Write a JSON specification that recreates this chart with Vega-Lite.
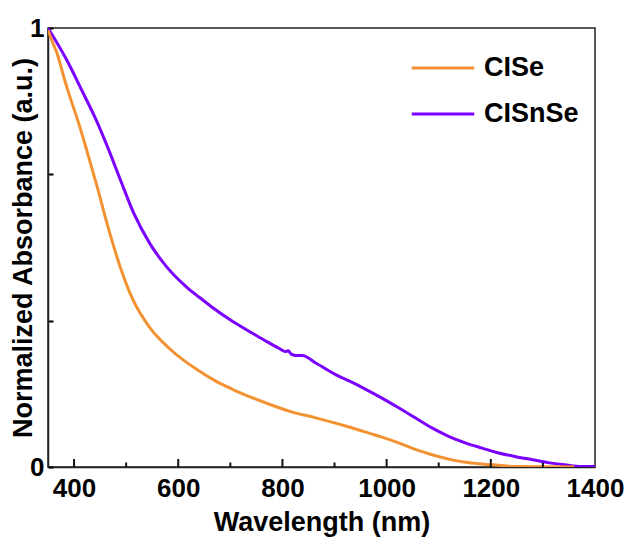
{
  "$schema": "https://vega.github.io/schema/vega-lite/v6.json",
  "width": 547,
  "height": 439,
  "autosize": {"type": "none"},
  "padding": {"left": 48, "top": 28, "right": 32, "bottom": 70},
  "config": {
    "font": "Liberation Sans",
    "view": {"stroke": "#222", "strokeWidth": 1.5},
    "axis": {"domainColor": "#222", "domainWidth": 1.5, "tickColor": "#000", "tickWidth": 2, "grid": false, "zindex": 1,
             "labelFont": "Liberation Sans", "labelFontWeight": "bold", "labelFontSize": 26, "labelColor": "#000",
             "titleFont": "Liberation Sans", "titleFontWeight": "bold", "titleFontSize": 27, "titleColor": "#000"}
  },
  "datasets": {
    "spectra": [
      {"wavelength": 350, "absorbance": 1.0, "sample": "CISnSe"},
      {"wavelength": 386, "absorbance": 0.927, "sample": "CISnSe"},
      {"wavelength": 417, "absorbance": 0.853, "sample": "CISnSe"},
      {"wavelength": 443, "absorbance": 0.789, "sample": "CISnSe"},
      {"wavelength": 465, "absorbance": 0.727, "sample": "CISnSe"},
      {"wavelength": 490, "absorbance": 0.651, "sample": "CISnSe"},
      {"wavelength": 515, "absorbance": 0.577, "sample": "CISnSe"},
      {"wavelength": 545, "absorbance": 0.510, "sample": "CISnSe"},
      {"wavelength": 577, "absorbance": 0.457, "sample": "CISnSe"},
      {"wavelength": 615, "absorbance": 0.411, "sample": "CISnSe"},
      {"wavelength": 641, "absorbance": 0.386, "sample": "CISnSe"},
      {"wavelength": 665, "absorbance": 0.364, "sample": "CISnSe"},
      {"wavelength": 704, "absorbance": 0.332, "sample": "CISnSe"},
      {"wavelength": 745, "absorbance": 0.303, "sample": "CISnSe"},
      {"wavelength": 768, "absorbance": 0.287, "sample": "CISnSe"},
      {"wavelength": 794, "absorbance": 0.270, "sample": "CISnSe"},
      {"wavelength": 806, "absorbance": 0.263, "sample": "CISnSe"},
      {"wavelength": 811, "absorbance": 0.265, "sample": "CISnSe"},
      {"wavelength": 817, "absorbance": 0.257, "sample": "CISnSe"},
      {"wavelength": 826, "absorbance": 0.254, "sample": "CISnSe"},
      {"wavelength": 838, "absorbance": 0.254, "sample": "CISnSe"},
      {"wavelength": 864, "absorbance": 0.237, "sample": "CISnSe"},
      {"wavelength": 908, "absorbance": 0.207, "sample": "CISnSe"},
      {"wavelength": 928, "absorbance": 0.196, "sample": "CISnSe"},
      {"wavelength": 960, "absorbance": 0.177, "sample": "CISnSe"},
      {"wavelength": 991, "absorbance": 0.157, "sample": "CISnSe"},
      {"wavelength": 1023, "absorbance": 0.135, "sample": "CISnSe"},
      {"wavelength": 1055, "absorbance": 0.112, "sample": "CISnSe"},
      {"wavelength": 1087, "absorbance": 0.089, "sample": "CISnSe"},
      {"wavelength": 1119, "absorbance": 0.070, "sample": "CISnSe"},
      {"wavelength": 1151, "absorbance": 0.055, "sample": "CISnSe"},
      {"wavelength": 1183, "absorbance": 0.043, "sample": "CISnSe"},
      {"wavelength": 1215, "absorbance": 0.032, "sample": "CISnSe"},
      {"wavelength": 1246, "absorbance": 0.024, "sample": "CISnSe"},
      {"wavelength": 1278, "absorbance": 0.017, "sample": "CISnSe"},
      {"wavelength": 1310, "absorbance": 0.010, "sample": "CISnSe"},
      {"wavelength": 1342, "absorbance": 0.005, "sample": "CISnSe"},
      {"wavelength": 1374, "absorbance": 0.001, "sample": "CISnSe"},
      {"wavelength": 1400, "absorbance": 0.001, "sample": "CISnSe"},

      {"wavelength": 350, "absorbance": 0.995, "sample": "CISe"},
      {"wavelength": 362, "absorbance": 0.958, "sample": "CISe"},
      {"wavelength": 366, "absorbance": 0.947, "sample": "CISe"},
      {"wavelength": 373, "absorbance": 0.920, "sample": "CISe"},
      {"wavelength": 378, "absorbance": 0.898, "sample": "CISe"},
      {"wavelength": 386, "absorbance": 0.866, "sample": "CISe"},
      {"wavelength": 411, "absorbance": 0.775, "sample": "CISe"},
      {"wavelength": 437, "absorbance": 0.669, "sample": "CISe"},
      {"wavelength": 450, "absorbance": 0.614, "sample": "CISe"},
      {"wavelength": 459, "absorbance": 0.573, "sample": "CISe"},
      {"wavelength": 469, "absorbance": 0.531, "sample": "CISe"},
      {"wavelength": 488, "absorbance": 0.458, "sample": "CISe"},
      {"wavelength": 513, "absorbance": 0.381, "sample": "CISe"},
      {"wavelength": 545, "absorbance": 0.318, "sample": "CISe"},
      {"wavelength": 583, "absorbance": 0.270, "sample": "CISe"},
      {"wavelength": 641, "absorbance": 0.218, "sample": "CISe"},
      {"wavelength": 673, "absorbance": 0.195, "sample": "CISe"},
      {"wavelength": 704, "absorbance": 0.177, "sample": "CISe"},
      {"wavelength": 768, "absorbance": 0.146, "sample": "CISe"},
      {"wavelength": 819, "absorbance": 0.125, "sample": "CISe"},
      {"wavelength": 864, "absorbance": 0.112, "sample": "CISe"},
      {"wavelength": 928, "absorbance": 0.091, "sample": "CISe"},
      {"wavelength": 972, "absorbance": 0.075, "sample": "CISe"},
      {"wavelength": 991, "absorbance": 0.068, "sample": "CISe"},
      {"wavelength": 1023, "absorbance": 0.055, "sample": "CISe"},
      {"wavelength": 1055, "absorbance": 0.040, "sample": "CISe"},
      {"wavelength": 1087, "absorbance": 0.028, "sample": "CISe"},
      {"wavelength": 1119, "absorbance": 0.018, "sample": "CISe"},
      {"wavelength": 1151, "absorbance": 0.011, "sample": "CISe"},
      {"wavelength": 1183, "absorbance": 0.007, "sample": "CISe"},
      {"wavelength": 1215, "absorbance": 0.004, "sample": "CISe"},
      {"wavelength": 1246, "absorbance": 0.001, "sample": "CISe"},
      {"wavelength": 1360, "absorbance": 0.0, "sample": "CISe"}
    ],
    "xticks": [
      {"wavelength": 400, "kind": "major"},
      {"wavelength": 500, "kind": "minor"},
      {"wavelength": 600, "kind": "major"},
      {"wavelength": 700, "kind": "minor"},
      {"wavelength": 800, "kind": "major"},
      {"wavelength": 900, "kind": "minor"},
      {"wavelength": 1000, "kind": "major"},
      {"wavelength": 1100, "kind": "minor"},
      {"wavelength": 1200, "kind": "major"},
      {"wavelength": 1300, "kind": "minor"}
    ]
  },
  "layer": [
    {
      "data": {"name": "spectra"},
      "mark": {"type": "line", "strokeWidth": 3, "clip": true, "interpolate": "monotone"},
      "encoding": {
        "x": {"field": "wavelength", "type": "quantitative",
              "scale": {"domain": [350, 1400], "nice": false, "zero": false},
              "axis": {"title": "Wavelength (nm)", "ticks": false,
                       "values": [400, 600, 800, 1000, 1200, 1400], "format": "d",
                       "labelPadding": 8, "titlePadding": 8, "labelFlush": false}},
        "y": {"field": "absorbance", "type": "quantitative",
              "scale": {"domain": [0, 1], "nice": false},
              "axis": {"title": "Normalized Absorbance (a.u.)", "values": [0, 0.33333, 0.66667, 1],
                       "labelExpr": "datum.value == 0 ? '0' : (datum.value == 1 ? '1' : '')",
                       "tickSize": -5, "labelPadding": 9, "titlePadding": -8, "labelFlush": false}},
        "color": {"field": "sample", "type": "nominal",
                  "scale": {"domain": ["CISe", "CISnSe"], "range": ["#F39232", "#7B00FF"]},
                  "legend": {"title": null, "orient": "none", "legendX": 362, "legendY": 7,
                             "symbolType": "stroke", "symbolSize": 3900, "symbolStrokeWidth": 3,
                             "labelFontSize": 27, "labelFontWeight": "bold", "labelColor": "#000",
                             "labelFont": "Liberation Sans", "rowPadding": -25, "labelOffset": 8}},
        "order": {"field": "wavelength", "type": "quantitative"}
      }
    },
    {
      "data": {"name": "xticks"},
      "mark": {"type": "tick", "orient": "vertical", "color": "#111", "thickness": 2, "clip": true, "opacity": 1},
      "encoding": {
        "x": {"field": "wavelength", "type": "quantitative"},
        "y": {"datum": 0, "type": "quantitative"},
        "size": {"field": "kind", "type": "nominal",
                 "scale": {"domain": ["major", "minor"], "range": [16, 9]}, "legend": null}
      }
    }
  ]
}
